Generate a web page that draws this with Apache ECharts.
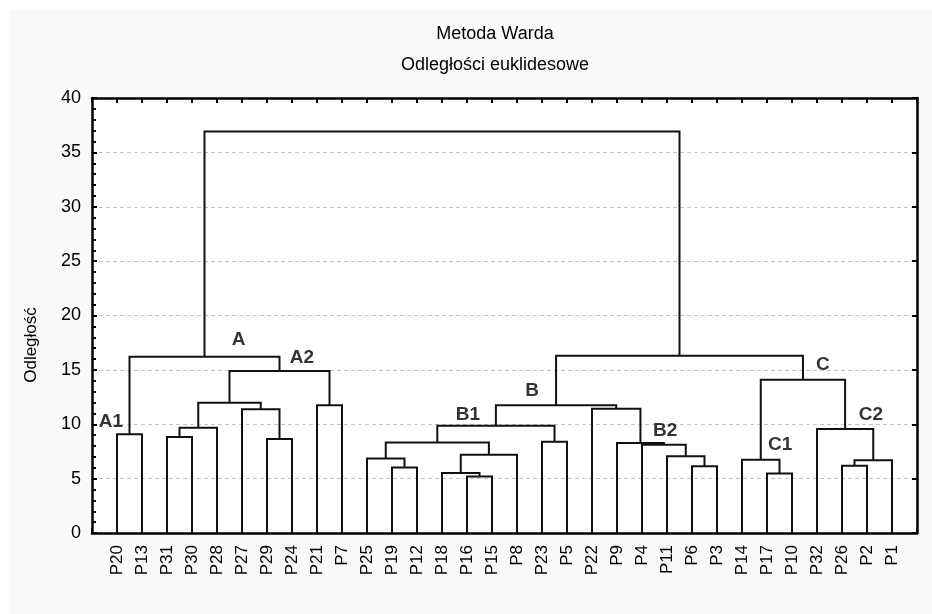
<!DOCTYPE html>
<html>
<head>
<meta charset="utf-8">
<script src="https://cdn.jsdelivr.net/npm/echarts@6/dist/echarts.min.js"></script>
<style>
html,body{margin:0;padding:0;background:#fff;}
#c{width:932px;height:614px;}
</style>
</head>
<body>
<div id="c"></div>
<script>
// ---- Data ----
var leaves = ['P20','P13','P31','P30','P28','P27','P29','P24','P21','P7','P25','P19','P12','P18','P16','P15','P8','P23','P5','P22','P9','P4','P11','P6','P3','P14','P17','P10','P32','P26','P2','P1'];
// merge i creates cluster 'c' + i ; children are leaf names or cluster ids
var mergeLeft  = ['P20','P31','c1','P29','P27','c2','P21','c5','c0','P19','P25','P16','P18','c12','c10','P23','c14','P6','P11','P4','P9','P22','c16','P17','P14','P26','c25','P32','c24','c22','c8'];
var mergeRight = ['P13','P30','P28','P24','c3','c4','P7','c6','c7','P12','c9','P15','c11','P8','c13','P5','c15','P3','c17','c18','c19','c20','c21','P10','c23','P2','P1','c26','c27','c28','c29'];
var mergeHeight = [9.07,8.83,9.68,8.64,11.37,11.98,11.74,14.9,16.21,6.03,6.86,5.2,5.52,7.2,8.33,8.4,9.87,6.13,7.05,8.12,8.28,11.43,11.74,5.48,6.74,6.19,6.68,9.56,14.1,16.3,36.93];
var clusterLabels = ['A','A2','A1','B','B1','B2','C','C1','C2'];
var clusterLabelX = [5.86,8.4,0.76,17.6,15.04,22.93,29.23,27.53,31.16];
var clusterLabelY = [17.98,16.3,10.42,13.24,11.09,9.59,15.63,8.33,11.03];
var yTicks = [0,5,10,15,20,25,30,35,40];

// ---- Dendrogram layout (leaf positions 1..n, cluster = midpoint) ----
var pos = {};
leaves.forEach(function(n,i){ pos[n] = {x: i+1, h: 0}; });
var segs = [];
for (var i=0;i<mergeHeight.length;i++){
  var a = pos[mergeLeft[i]], b = pos[mergeRight[i]], h = mergeHeight[i];
  segs.push({coords: [[a.x,a.h],[a.x,h],[b.x,h],[b.x,b.h]]});
  pos['c'+i] = {x: (a.x+b.x)/2, h: h};
}
var labelData = clusterLabels.map(function(t,i){ return {value:[clusterLabelX[i], clusterLabelY[i]], name:t}; });

var chart = echarts.init(document.getElementById('c'));
var FONT = 'Liberation Sans, Arial, sans-serif';
var lineCol = '#111111';
var option = {
  animation: false,
  backgroundColor: '#ffffff',
  textStyle: {fontFamily: FONT},
  graphic: [
    {type:'rect', z:-10, shape:{x:9,y:10,width:923,height:604}, style:{fill:'#f9f9f9'}},
    {type:'text', x:31, y:345, rotation:Math.PI/2, style:{text:'Odległość', font:'17px '+FONT, fill:'#000', textAlign:'center', textVerticalAlign:'middle'}}
  ],
  title: [
    {text:'Metoda Warda', left:490, top:20, textAlign:'center', textStyle:{fontSize:18, fontWeight:'normal', color:'#000', fontFamily:FONT}},
    {text:'Odległości euklidesowe', left:490, top:51, textAlign:'center', textStyle:{fontSize:18, fontWeight:'normal', color:'#000', fontFamily:FONT}}
  ],
  grid: {left:92, right:15, top:98, bottom:81, show:true, backgroundColor:'#fff', borderWidth:0},
  xAxis: [
    {type:'value', min:0, max:leaves.length+1, interval:1, position:'bottom',
     axisLine:{show:true, onZero:false, lineStyle:{color:'#000', width:2.5}},
     axisTick:{show:true, inside:true, length:5, lineStyle:{color:'#000', width:2}},
     splitLine:{show:false},
     axisLabel:{rotate:90, margin:12, fontSize:17, color:'#000', fontFamily:FONT,
       formatter:function(v){ return leaves[Math.round(v)-1] || ''; }}},
    {type:'value', min:0, max:leaves.length+1, interval:1, position:'top',
     axisLine:{show:true, onZero:false, lineStyle:{color:'#000', width:2.5}},
     axisTick:{show:true, inside:true, length:5, lineStyle:{color:'#000', width:2}},
     splitLine:{show:false}, axisLabel:{show:false}}
  ],
  yAxis: [
    {type:'value', min:0, max:40, interval:5, position:'left',
     axisLine:{show:true, onZero:false, lineStyle:{color:'#000', width:2.5}},
     axisTick:{show:true, inside:true, length:5, lineStyle:{color:'#000', width:2}},
     minorTick:{show:true, splitNumber:5, length:4, lineStyle:{color:'#000', width:2}},
     splitLine:{show:true, lineStyle:{color:'#c4c4c4', type:[4,3], width:1.2}},
     axisLabel:{margin:11, fontSize:18, color:'#000', fontFamily:FONT,
       formatter:function(v){ return yTicks.indexOf(v) >= 0 ? String(v) : ''; }}},
    {type:'value', min:0, max:40, interval:5, position:'right',
     axisLine:{show:true, onZero:false, lineStyle:{color:'#000', width:2.5}},
     axisTick:{show:true, inside:true, length:5, lineStyle:{color:'#000', width:2}},
     splitLine:{show:false}, axisLabel:{show:false}}
  ],
  series: [
    {type:'lines', coordinateSystem:'cartesian2d', polyline:true, silent:true,
     lineStyle:{color:lineCol, width:2, opacity:1}, data:segs, z:5},
    {type:'scatter', symbolSize:1, itemStyle:{color:'rgba(0,0,0,0)'}, silent:true, z:6,
     data:labelData,
     label:{show:true, position:'inside', offset:[0,2], formatter:'{b}', fontSize:19, fontWeight:'bold', color:'#000', fontFamily:FONT}}
  ]
};
chart.setOption(option);
</script>
</body>
</html>
